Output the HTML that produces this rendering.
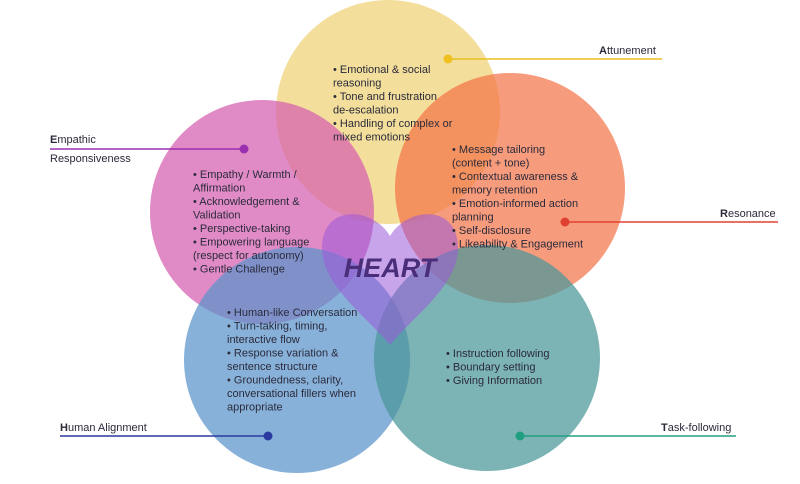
<!DOCTYPE html>
<html><head><meta charset="utf-8"><style>
body{margin:0;background:#fff;width:800px;height:484px;overflow:hidden}
svg{display:block}
text{font-family:"Liberation Sans",sans-serif;font-size:11px;fill:#2a2a3a}
</style></head><body>
<svg width="800" height="484" viewBox="0 0 800 484">
<circle cx="388" cy="112" r="112" fill="#efd274" opacity="0.72"/>
<circle cx="262" cy="212" r="112" fill="#d55eb0" opacity="0.72"/>
<circle cx="510" cy="188" r="115" fill="#f37046" opacity="0.7"/>
<circle cx="297" cy="360" r="113" fill="#5a93cc" opacity="0.72"/>
<circle cx="487" cy="358" r="113" fill="#4a9698" opacity="0.72"/>
<path d="M390 236 C372 206 322 204 322 248 C322 285 365 315 390 345 C415 315 458 285 458 248 C458 204 408 206 390 236 Z" fill="#9a5ad8" opacity="0.55"/>
<text x="390" y="277" text-anchor="middle" style="font-size:27px;font-weight:bold;font-style:italic;fill:#4a2e7a">HEART</text>

<g>
<text x="333" y="73">• Emotional &amp; social</text>
<text x="333" y="86.5">reasoning</text>
<text x="333" y="100">• Tone and frustration</text>
<text x="333" y="113.5">de-escalation</text>
<text x="333" y="127">• Handling of complex or</text>
<text x="333" y="140.5">mixed emotions</text>

<text x="193" y="178">• Empathy / Warmth /</text>
<text x="193" y="191.5">Affirmation</text>
<text x="193" y="205">• Acknowledgement &amp;</text>
<text x="193" y="218.5">Validation</text>
<text x="193" y="232">• Perspective-taking</text>
<text x="193" y="245.5">• Empowering language</text>
<text x="193" y="259">(respect for autonomy)</text>
<text x="193" y="272.5">• Gentle Challenge</text>

<text x="452" y="153">• Message tailoring</text>
<text x="452" y="166.5">(content + tone)</text>
<text x="452" y="180">• Contextual awareness &amp;</text>
<text x="452" y="193.5">memory retention</text>
<text x="452" y="207">• Emotion-informed action</text>
<text x="452" y="220.5">planning</text>
<text x="452" y="234">• Self-disclosure</text>
<text x="452" y="247.5">• Likeability &amp; Engagement</text>

<text x="227" y="316">• Human-like Conversation</text>
<text x="227" y="329.5">• Turn-taking, timing,</text>
<text x="227" y="343">interactive flow</text>
<text x="227" y="356.5">• Response variation &amp;</text>
<text x="227" y="370">sentence structure</text>
<text x="227" y="383.5">• Groundedness, clarity,</text>
<text x="227" y="397">conversational fillers when</text>
<text x="227" y="410.5">appropriate</text>

<text x="446" y="357">• Instruction following</text>
<text x="446" y="370.5">• Boundary setting</text>
<text x="446" y="384">• Giving Information</text>
</g>

<line x1="448" y1="59" x2="662" y2="59" stroke="#e8c020" stroke-width="1.5"/>
<circle cx="448" cy="59" r="4.5" fill="#f0c020"/>
<text x="599" y="54"><tspan font-weight="bold">A</tspan>ttunement</text>

<line x1="50" y1="149" x2="244" y2="149" stroke="#9a30b0" stroke-width="1.5"/>
<circle cx="244" cy="149" r="4.5" fill="#9a30b0"/>
<text x="50" y="143"><tspan font-weight="bold">E</tspan>mpathic</text>
<text x="50" y="162">Responsiveness</text>

<line x1="565" y1="222" x2="778" y2="222" stroke="#e04030" stroke-width="1.5"/>
<circle cx="565" cy="222" r="4.5" fill="#e04030"/>
<text x="720" y="217"><tspan font-weight="bold">R</tspan>esonance</text>

<line x1="60" y1="436" x2="268" y2="436" stroke="#2a3aa0" stroke-width="1.5"/>
<circle cx="268" cy="436" r="4.5" fill="#2a3aa0"/>
<text x="60" y="431"><tspan font-weight="bold">H</tspan>uman Alignment</text>

<line x1="520" y1="436" x2="736" y2="436" stroke="#20a080" stroke-width="1.5"/>
<circle cx="520" cy="436" r="4.5" fill="#20a080"/>
<text x="661" y="431"><tspan font-weight="bold">T</tspan>ask-following</text>
</svg>
</body></html>
